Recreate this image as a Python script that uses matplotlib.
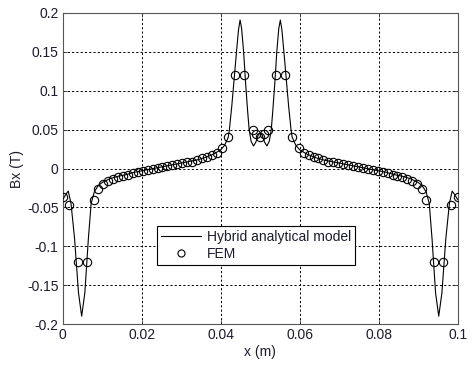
import matplotlib
matplotlib.use("Agg")
import matplotlib.pyplot as plt

plt.rcParams['font.family'] = ['Liberation Sans', 'DejaVu Sans']

# Hybrid analytical model (line)
line_x = [0.0, 0.0007, 0.0014, 0.0021, 0.0030, 0.0040, 0.0048, 0.0056, 0.0065, 0.0072,
          0.0080, 0.0090, 0.0100, 0.0120, 0.0140, 0.0160, 0.0180, 0.0200, 0.0220, 0.0240,
          0.0260, 0.0280, 0.0300, 0.0320, 0.0340, 0.0360, 0.0380, 0.0400, 0.0410, 0.0419,
          0.0422, 0.0428, 0.0434, 0.0440, 0.0445, 0.0449, 0.0453, 0.0458, 0.0463, 0.0468,
          0.0472, 0.0477, 0.0483, 0.0489, 0.0495, 0.0500,
          0.0505, 0.0511, 0.0517, 0.0523, 0.0528, 0.0532, 0.0537, 0.0542, 0.0547, 0.0551,
          0.0555, 0.0560, 0.0566, 0.0572, 0.0578, 0.0581, 0.0590, 0.0600, 0.0620, 0.0640,
          0.0660, 0.0680, 0.0700, 0.0720, 0.0740, 0.0760, 0.0780, 0.0800, 0.0820, 0.0840,
          0.0860, 0.0880, 0.0900, 0.0910, 0.0920, 0.0928, 0.0935, 0.0944, 0.0952, 0.0960,
          0.0970, 0.0979, 0.0986, 0.0993, 0.1000]
line_y = [-0.040, -0.034, -0.029, -0.045, -0.090, -0.160, -0.190, -0.160, -0.090, -0.045,
          -0.030, -0.022, -0.018, -0.013, -0.010, -0.008, -0.005, -0.003, -0.001, 0.001,
          0.003, 0.005, 0.007, 0.009, 0.011, 0.014, 0.018, 0.024, 0.030, 0.040,
          0.050, 0.080, 0.115, 0.150, 0.178, 0.191, 0.180, 0.150, 0.110, 0.075,
          0.050, 0.035, 0.029, 0.034, 0.043, 0.046,
          0.043, 0.034, 0.029, 0.035, 0.050, 0.075, 0.110, 0.150, 0.180, 0.191,
          0.178, 0.150, 0.115, 0.080, 0.050, 0.040, 0.030, 0.024, 0.018, 0.014,
          0.011, 0.009, 0.007, 0.005, 0.003, 0.001, -0.001, -0.003, -0.005, -0.008,
          -0.010, -0.013, -0.018, -0.022, -0.030, -0.045, -0.090, -0.160, -0.190, -0.160,
          -0.090, -0.045, -0.029, -0.034, -0.040]

# FEM (circles)
fem_x = [0.0, 0.0016, 0.0038, 0.0061, 0.0079,
         0.00900, 0.01025, 0.01150, 0.01275, 0.01400, 0.01525, 0.01650, 0.01775, 0.01900,
         0.02025, 0.02150, 0.02275, 0.02400, 0.02525, 0.02650, 0.02775, 0.02900, 0.03025,
         0.03150, 0.03275, 0.03400, 0.03525, 0.03650, 0.03775, 0.03900, 0.04025,
         0.0419, 0.0436, 0.0459, 0.0481, 0.0490, 0.0500, 0.0510, 0.0519,
         0.0541, 0.0564, 0.0581,
         0.05975, 0.06100, 0.06225, 0.06350, 0.06475, 0.06600, 0.06725, 0.06850, 0.06975,
         0.07100, 0.07225, 0.07350, 0.07475, 0.07600, 0.07725, 0.07850, 0.07975, 0.08100,
         0.08225, 0.08350, 0.08475, 0.08600, 0.08725, 0.08850, 0.08975, 0.09100,
         0.0921, 0.0939, 0.0962, 0.0984, 0.1000]
fem_y = [-0.037, -0.047, -0.120, -0.120, -0.040,
         -0.027, -0.020, -0.016, -0.013, -0.011, -0.009, -0.008, -0.006, -0.005,
         -0.003, -0.002, -0.001, 0.001, 0.002, 0.003, 0.004, 0.006, 0.007,
         0.008, 0.009, 0.011, 0.013, 0.015, 0.017, 0.020, 0.026,
         0.040, 0.120, 0.120, 0.049, 0.044, 0.040, 0.044, 0.049,
         0.120, 0.120, 0.040,
         0.026, 0.020, 0.017, 0.015, 0.013, 0.011, 0.009, 0.008, 0.007,
         0.006, 0.004, 0.003, 0.002, 0.001, -0.001, -0.002, -0.003, -0.005,
         -0.006, -0.008, -0.009, -0.011, -0.013, -0.016, -0.020, -0.027,
         -0.040, -0.120, -0.120, -0.047, -0.037]

x_ticks = [0, 0.02, 0.04, 0.06, 0.08, 0.1]
x_tick_labels = ['0', '0.02', '0.04', '0.06', '0.08', '0.1']
y_ticks = [-0.2, -0.15, -0.1, -0.05, 0, 0.05, 0.1, 0.15, 0.2]
y_tick_labels = ['-0.2', '-0.15', '-0.1', '-0.05', '0', '0.05', '0.1', '0.15', '0.2']

fig = plt.figure(figsize=(4.74, 3.65), dpi=100)
ax = fig.add_axes([0.1323, 0.1123, 0.8333, 0.8521])

text_color = '#1c1c2e'
ax.plot(line_x, line_y, color='black', lw=0.8, label='Hybrid analytical model', zorder=3)
ax.plot(fem_x, fem_y, linestyle='none', marker='o', markersize=6, markerfacecolor='none',
        markeredgecolor='black', markeredgewidth=0.8, label='FEM', zorder=4)

ax.set_xlim(0, 0.1)
ax.set_ylim(-0.2, 0.2)
ax.set_xticks(x_ticks)
ax.set_xticklabels(x_tick_labels)
ax.set_yticks(y_ticks)
ax.set_yticklabels(y_tick_labels)
ax.grid(True, color='black', linestyle=(0, (2.2, 2.2)), linewidth=0.7)
ax.tick_params(direction='in', length=3, width=0.6, labelsize=10, colors='#333333',
               labelcolor=text_color, top=True, right=True, pad=3)
for sp in ax.spines.values():
    sp.set_color('#555555')
    sp.set_linewidth(0.8)

ax.set_xlabel('x (m)', fontsize=10, color=text_color, labelpad=2)
ax.set_ylabel('Bx (T)', fontsize=10, color=text_color, labelpad=2)

leg = ax.legend(loc='lower left', bbox_to_anchor=(0.238, 0.19, 0.502, 0.134), mode='expand',
                fontsize=10, frameon=True, fancybox=False, framealpha=1, edgecolor='black',
                borderpad=0.3, handlelength=2.9, handletextpad=0.4, labelspacing=0.2,
                borderaxespad=0, markerscale=0.85)
leg.get_frame().set_linewidth(0.8)
for t in leg.get_texts():
    t.set_color(text_color)

fig.savefig('out.png', dpi=100)
